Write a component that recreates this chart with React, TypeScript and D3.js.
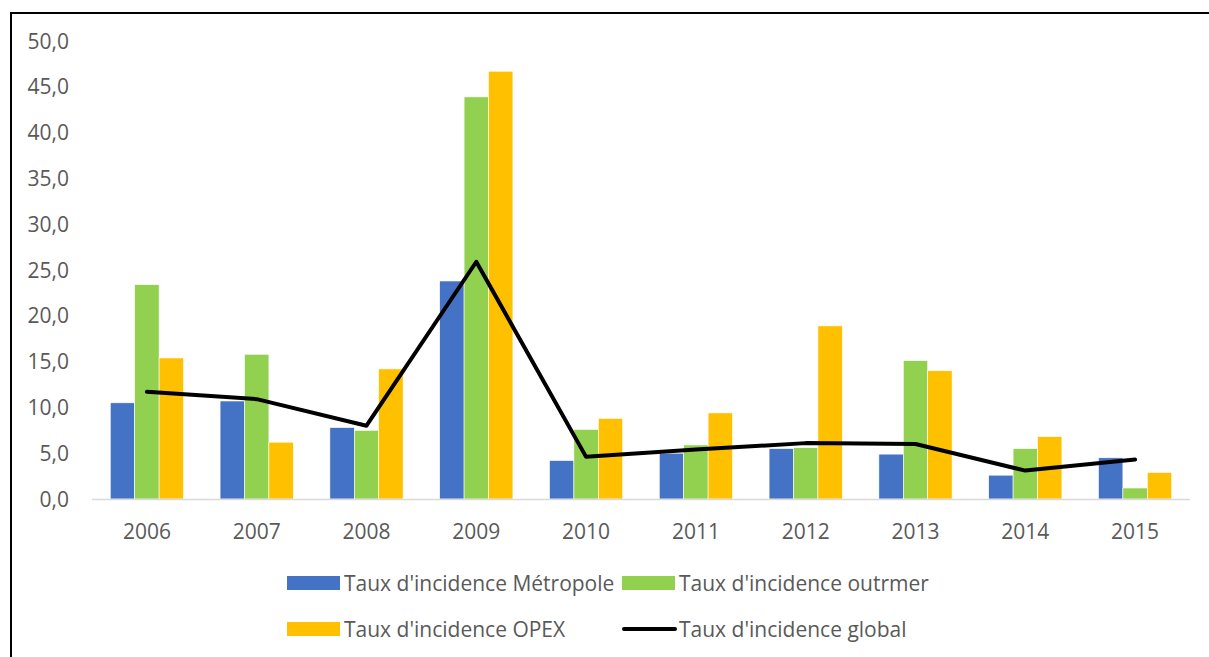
import { useRef, useEffect } from 'react';
import * as d3 from 'd3';

const years = ['2006', '2007', '2008', '2009', '2010', '2011', '2012', '2013', '2014', '2015'];
const metropole = [10.5, 10.7, 7.8, 23.8, 4.2, 5.0, 5.5, 4.9, 2.6, 4.5];
const outremer = [23.4, 15.8, 7.5, 43.9, 7.6, 5.9, 5.6, 15.1, 5.5, 1.2];
const opex = [15.4, 6.2, 14.2, 46.7, 8.8, 9.4, 18.9, 14.0, 6.8, 2.9];
const global = [11.7, 10.9, 8.0, 25.9, 4.6, 5.4, 6.1, 6.0, 3.1, 4.3];
const yTicks = [0, 5, 10, 15, 20, 25, 30, 35, 40, 45, 50];

const seriesNames = ["Taux d'incidence Métropole", "Taux d'incidence outrmer", "Taux d'incidence OPEX"];
const lineName = "Taux d'incidence global";
const colors = ['#4472c4', '#92d050', '#ffc000'];

const FONT = '"Open Sans", sans-serif';

const App = () => {
  const ref = useRef<SVGSVGElement>(null);

  useEffect(() => {
    const svg = d3.select(ref.current);
    svg.selectAll('*').remove();

    // frame (right and bottom edges fall outside the picture)
    svg.append('rect')
      .attr('x', 11).attr('y', 13)
      .attr('width', 1220).attr('height', 680)
      .attr('fill', 'white')
      .attr('stroke', '#000').attr('stroke-width', 2);

    const x = d3.scaleBand().domain(years).range([92, 1190]);
    const y = d3.scaleLinear().domain([0, 50]).range([499, 41]);

    // y tick labels
    svg.append('g')
      .selectAll('text')
      .data(yTicks)
      .join('text')
      .attr('x', 69)
      .attr('y', d => y(d))
      .attr('dy', '0.36em')
      .attr('text-anchor', 'end')
      .attr('font-family', FONT)
      .attr('font-size', 21)
      .attr('fill', '#595959')
      .text(d => d3.format('.1f')(d).replace('.', ','));

    // bars
    const data = [metropole, outremer, opex];
    const groupW = x.bandwidth() * 0.667;
    const x1 = d3.scaleBand().domain(['0', '1', '2']).range([0, groupW]);
    data.forEach((vals, i) => {
      svg.append('g')
        .selectAll('rect')
        .data(vals)
        .join('rect')
        .attr('x', (_, j) => x(years[j])! + (x.bandwidth() - groupW) / 2 + x1(String(i))!)
        .attr('y', d => y(d))
        .attr('width', x1.bandwidth())
        .attr('height', d => y(0) - y(d))
        .attr('fill', colors[i])
        .attr('stroke', 'white')
        .attr('stroke-width', 0.6);
    });

    // x axis line
    svg.append('line')
      .attr('x1', 92).attr('x2', 1190)
      .attr('y1', y(0) + 0.5).attr('y2', y(0) + 0.5)
      .attr('stroke', '#d9d9d9').attr('stroke-width', 1.5);

    // x labels
    svg.append('g')
      .selectAll('text')
      .data(years)
      .join('text')
      .attr('x', d => x(d)! + x.bandwidth() / 2)
      .attr('y', 531)
      .attr('dy', '0.36em')
      .attr('text-anchor', 'middle')
      .attr('font-family', FONT)
      .attr('font-size', 21)
      .attr('fill', '#595959')
      .text(d => d);

    // global line
    const line = d3.line<number>()
      .x((_, j) => x(years[j])! + x.bandwidth() / 2)
      .y(d => y(d));
    svg.append('path')
      .datum(global)
      .attr('d', line)
      .attr('fill', 'none')
      .attr('stroke', '#000')
      .attr('stroke-width', 4)
      .attr('stroke-linejoin', 'round')
      .attr('stroke-linecap', 'round');

    // legend
    const legend = [
      { name: seriesNames[0], color: colors[0], kind: 'rect', lx: 287, ly: 583 },
      { name: seriesNames[1], color: colors[1], kind: 'rect', lx: 622, ly: 583 },
      { name: seriesNames[2], color: colors[2], kind: 'rect', lx: 287, ly: 629 },
      { name: lineName, color: '#000', kind: 'line', lx: 622, ly: 629 },
    ];
    const lg = svg.append('g').selectAll('g').data(legend).join('g');
    lg.each(function (d) {
      const g = d3.select(this);
      if (d.kind === 'rect') {
        g.append('rect')
          .attr('x', d.lx).attr('y', d.ly - 7)
          .attr('width', 53).attr('height', 14)
          .attr('fill', d.color);
      } else {
        g.append('line')
          .attr('x1', d.lx + 2).attr('x2', d.lx + 53)
          .attr('y1', d.ly).attr('y2', d.ly)
          .attr('stroke', d.color).attr('stroke-width', 4)
          .attr('stroke-linecap', 'round');
      }
      g.append('text')
        .attr('x', d.lx + 57)
        .attr('y', d.ly)
        .attr('dy', '0.36em')
        .attr('font-family', FONT)
        .attr('font-size', 21)
        .attr('fill', '#595959')
        .text(d.name);
    });
  }, []);

  return (
    <svg
      ref={ref}
      width={1209}
      height={657}
      style={{ position: 'absolute', left: 0, top: 0, display: 'block' }}
    />
  );
};

export default App;
